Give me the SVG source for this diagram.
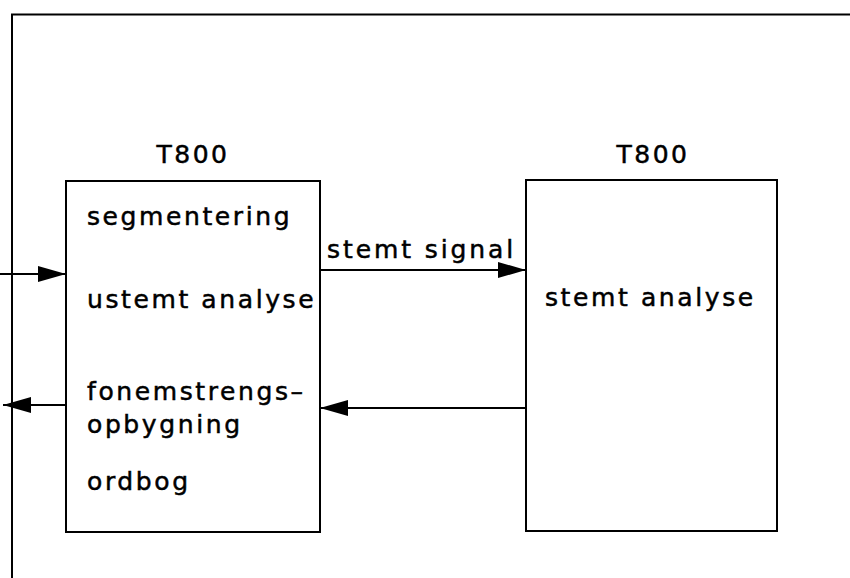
<svg xmlns="http://www.w3.org/2000/svg" width="850" height="578" viewBox="0 0 850 578">
<style>
.box{fill:none;stroke:#000;stroke-width:2}
.ln{fill:none;stroke:#000;stroke-width:2}
.t{font-family:"DejaVu Sans",sans-serif;font-size:25px;letter-spacing:2.6px;fill:#000;stroke:#000;stroke-width:0.5}
.h{font-family:"DejaVu Sans",sans-serif;font-size:25px;letter-spacing:2.5px;fill:#000;stroke:#000;stroke-width:0.5;text-anchor:middle}
</style>
<defs>
<marker id="ah" markerWidth="28" markerHeight="18" refX="28" refY="9" orient="auto" markerUnits="userSpaceOnUse" overflow="visible">
<path d="M0,1 L28,9 L0,17 Z" fill="#000"/>
</marker>
</defs>
<rect width="850" height="578" fill="#fff"/>
<g id="frame">
<path class="ln" d="M850,14.5 H12 V578"/>
</g>
<g id="node-left">
<rect class="box" x="66" y="181" width="254" height="351"/>
<text class="h" x="193" y="163">T800</text>
<text class="t" x="87" y="225">segmentering</text>
<text class="t" x="87" y="308">ustemt analyse</text>
<text class="t" x="87" y="400">fonemstrengs–</text>
<text class="t" x="87" y="433">opbygning</text>
<text class="t" x="87" y="490">ordbog</text>
</g>
<g id="node-right">
<rect class="box" x="526" y="180" width="251" height="351"/>
<text class="h" x="653" y="163">T800</text>
<text class="t" x="545" y="306">stemt analyse</text>
</g>
<g id="connectors">
<line class="ln" x1="0" y1="274" x2="66" y2="274" marker-end="url(#ah)"/>
<line class="ln" x1="66" y1="405" x2="3" y2="405" marker-end="url(#ah)"/>
<line class="ln" x1="320" y1="270" x2="526" y2="270" marker-end="url(#ah)"/>
<line class="ln" x1="526" y1="408" x2="320" y2="408" marker-end="url(#ah)"/>
<text class="t" x="327" y="258" style="letter-spacing:2.9px">stemt signal</text>
</g>
</svg>
